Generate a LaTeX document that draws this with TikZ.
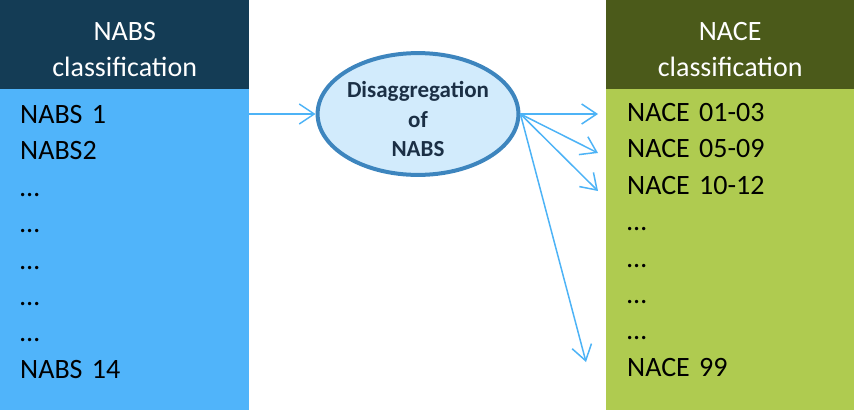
\documentclass[tikz,border=0pt]{standalone}
\usepackage{fontspec}
\setmainfont{Carlito}
\usepackage{tikz}
\usetikzlibrary{arrows.meta,positioning,shapes.geometric}
\definecolor{nabsdark}{HTML}{143C55}
\definecolor{nabsblue}{HTML}{50B4FA}
\definecolor{nacedark}{HTML}{4B5A1A}
\definecolor{nacegreen}{HTML}{AFCB50}
\definecolor{ovalfill}{HTML}{D2EBFC}
\definecolor{ovalline}{HTML}{3D85BE}
\definecolor{ovaltext}{HTML}{1B2F45}
\definecolor{linkblue}{HTML}{4DB3F6}

\begin{document}
\begin{tikzpicture}[x=1pt,y=-1pt,node distance=0pt,>={Straight Barb[length=15pt,width=20pt]}]
        \useasboundingbox (0,0) rectangle (854,410);
        \tikzset{
          headbox/.style={anchor=north west,text=white,minimum width=249pt,minimum height=89pt,inner sep=0pt,align=center,font=\fontsize{28}{36}\selectfont},
          bodybox/.style={anchor=north west,minimum width=249pt,minimum height=321pt,inner sep=0pt},
          listitem/.style={text width=200pt,align=left,minimum height=36pt,inner sep=0pt,text height=18pt,text depth=5pt,font=\fontsize{28}{34}\selectfont},
          link/.style={->,draw=linkblue,line width=1.5pt}
        }
        % NABS side
        \node[headbox,fill=nabsdark] (nabshead) at (0,0) {\rule{0pt}{28pt}NABS\\classification};
        \node[bodybox,fill=nabsblue] (nabsbody) at (0,89) {};
        \node[listitem,anchor=west] (nabs1) at (20,117) {NABS 1};
        \node[listitem,below=of nabs1] (nabs2) {NABS2};
        \node[listitem,below=of nabs2] (nabs3) {…};
        \node[listitem,below=of nabs3] (nabs4) {…};
        \node[listitem,below=of nabs4] (nabs5) {…};
        \node[listitem,below=of nabs5] (nabs6) {…};
        \node[listitem,below=of nabs6] (nabs7) {…};
        \node[listitem,below=of nabs7] (nabs14) {NABS 14};
        % NACE side
        \node[headbox,fill=nacedark,minimum width=248pt] (nacehead) at (606,0) {\rule{0pt}{28pt}NACE\\classification};
        \node[bodybox,fill=nacegreen,minimum width=248pt] (nacebody) at (606,89) {};
        \node[listitem,anchor=west] (nace1) at (627,115) {NACE 01-03};
        \node[listitem,below=of nace1] (nace2) {NACE 05-09};
        \node[listitem,below=of nace2] (nace3) {NACE 10-12};
        \node[listitem,below=of nace3] (nace4) {…};
        \node[listitem,below=of nace4] (nace5) {…};
        \node[listitem,below=of nace5] (nace6) {…};
        \node[listitem,below=of nace6] (nace7) {…};
        \node[listitem,below=of nace7] (nace99) {NACE 99};
        % disaggregation
        \node[ellipse,draw=ovalline,line width=4pt,fill=ovalfill,minimum width=196pt,minimum height=112pt,inner sep=0pt,
              align=center,text=ovaltext,font=\bfseries\fontsize{23}{29.5}\selectfont] (disagg) at (418,114) {\rule{0pt}{27pt}Disaggregation\\of\\NABS};
        \coordinate (t1) at (598,114);
        \coordinate (t2) at (598,153);
        \coordinate (t3) at (598,191);
        \coordinate (t4) at (586,362);
        \draw[link] (disagg.west -| nabsbody.east) -- (disagg.west);
        \draw[link] (disagg.east |- t1) -- (t1);
        \draw[link] (disagg.east) -- (t2);
        \draw[link] (disagg.east) -- (t3);
        \draw[link] (disagg.east) -- (t4);
      \end{tikzpicture}
\end{document}
